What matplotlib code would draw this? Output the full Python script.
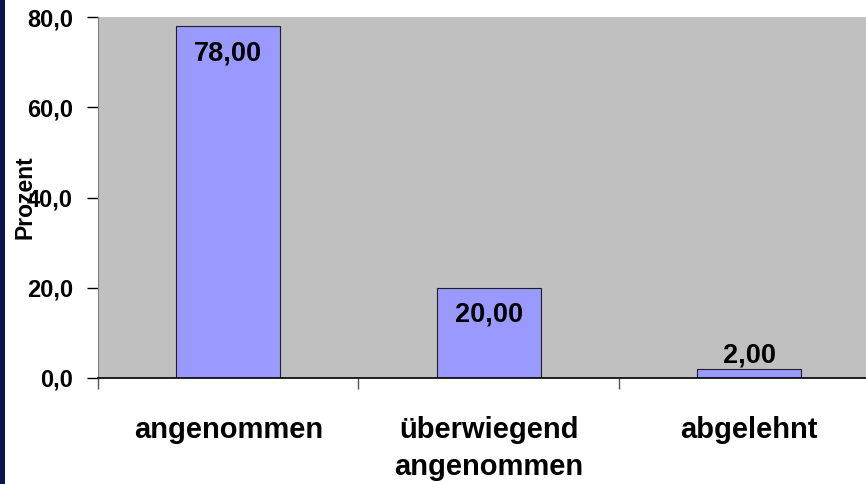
import matplotlib.pyplot as plt
from matplotlib.patches import Rectangle

plt.rcParams['font.family'] = ['Liberation Sans', 'DejaVu Sans']
plt.rcParams['font.weight'] = 'bold'

# Data
categories = ["angenommen", "überwiegend\nangenommen", "abgelehnt"]
values = [78.0, 20.0, 2.0]
y_ticks = [0, 20, 40, 60, 80]

fig = plt.figure(figsize=(8.66, 4.84), dpi=100)
fig.patch.set_facecolor('white')
# dark blue strip on the left edge
fig.patches.append(Rectangle((0, 0), 5 / 866, 1, transform=fig.transFigure,
                             facecolor='#0b1450', edgecolor='none'))

ax = fig.add_axes([98 / 866, 106 / 484, 781.5 / 866, 361 / 484])
ax.set_facecolor('#c0c0c0')

x = list(range(len(categories)))
ax.bar(x, values, width=0.4, color='#9999ff', edgecolor='#202020', linewidth=0.8, zorder=2)

# value labels
for xi, v in zip(x, values):
    off = -19.5 if v > 10 else 10
    ax.annotate(f"{v:.2f}".replace('.', ','), (xi, v), xytext=(0, off),
                textcoords='offset points', ha='center', va='center',
                fontsize=19.5, fontweight='bold', color='black', zorder=3)

ax.set_xlim(-0.5, 2.5)
ax.set_ylim(0, 80)

# y axis
ax.set_yticks(y_ticks)
ax.set_yticklabels([f"{t:.1f}".replace('.', ',') for t in y_ticks], fontsize=17, fontweight='bold')
ax.tick_params(axis='y', direction='out', length=8, width=1, color='black', pad=10)

# x axis: ticks at category boundaries, labels in the middle
ax.set_xticks([-0.5, 0.5, 1.5, 2.5])
ax.set_xticklabels([])
ax.set_xticks(x, minor=True)
ax.set_xticklabels(categories, minor=True, fontsize=21, fontweight='bold', linespacing=1.42)
ax.tick_params(axis='x', which='major', direction='out', length=8, width=1, color='#555555')
ax.tick_params(axis='x', which='minor', length=0, pad=27)

# the label sits over the "40,0" tick label, as in the original
ax.set_ylabel("Prozent", fontsize=16.5, fontweight='bold')
ax.yaxis.set_label_coords(-0.079, 0.5)

for s in ['top', 'right']:
    ax.spines[s].set_visible(False)
ax.spines['left'].set_color('#808080')
ax.spines['left'].set_bounds(0, 80)
ax.spines['bottom'].set_color('black')
ax.spines['bottom'].set_linewidth(1.2)

fig.savefig("out.png", dpi=100)
